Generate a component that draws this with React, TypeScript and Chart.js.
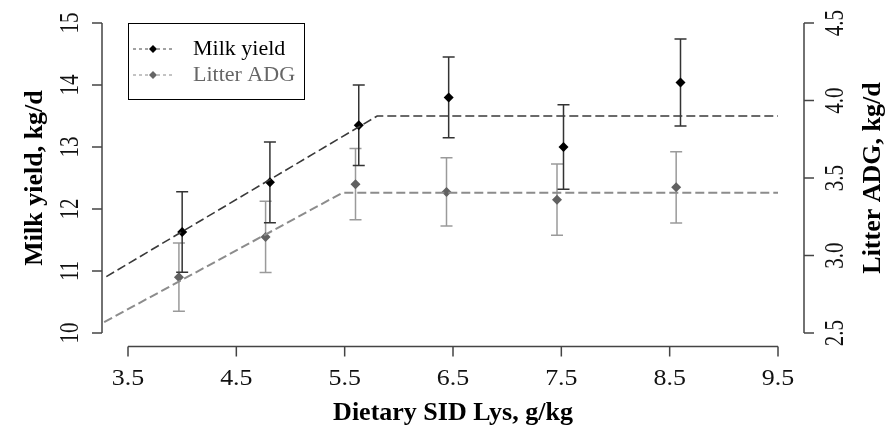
import React, { useEffect, useRef } from "react";
import { Chart, registerables } from "chart.js";

Chart.register(...registerables);

// ---- data ----
const seriesNames = ["Milk yield", "Litter ADG"];
const xTitle = "Dietary SID Lys, g/kg";
const yTitle = "Milk yield, kg/d";
const y2Title = "Litter ADG, kg/d";

const xTicks = [3.5, 4.5, 5.5, 6.5, 7.5, 8.5, 9.5];
const xTickLabels = ["3.5", "4.5", "5.5", "6.5", "7.5", "8.5", "9.5"];
const yTicks = [10, 11, 12, 13, 14, 15];
const yTickLabels = ["10", "11", "12", "13", "14", "15"];
const y2Ticks = [2.5, 3.0, 3.5, 4.0, 4.5];
const y2TickLabels = ["2.5", "3.0", "3.5", "4.0", "4.5"];

const milkX = [4.0, 4.81, 5.63, 6.46, 7.52, 8.6];
const milkY = [11.63, 12.43, 13.35, 13.8, 13.0, 14.04];
const milkSE = [0.65, 0.65, 0.65, 0.65, 0.68, 0.7];

const adgX = [3.97, 4.77, 5.6, 6.44, 7.46, 8.56];
const adgY = [2.86, 3.12, 3.46, 3.41, 3.36, 3.44];
const adgSE = [0.22, 0.23, 0.23, 0.22, 0.23, 0.23];

const milkFitX = [3.3, 5.8, 9.5];
const milkFitY = [10.91, 13.5, 13.5];
const adgFitX = [3.28, 5.48, 9.5];
const adgFitY = [2.57, 3.405, 3.405];

const FONT = '"Liberation Serif", "Times New Roman", serif';
const AXIS_COLOR = "#444";

const drawDiamond = (ctx: CanvasRenderingContext2D, x: number, y: number, r: number, color: string) => {
  ctx.beginPath();
  ctx.moveTo(x, y - r);
  ctx.lineTo(x + r, y);
  ctx.lineTo(x, y + r);
  ctx.lineTo(x - r, y);
  ctx.closePath();
  ctx.fillStyle = color;
  ctx.fill();
};

const errorBarsPlugin = {
  id: "errorBars",
  beforeDatasetsDraw(chart: any) {
    const ctx = chart.ctx as CanvasRenderingContext2D;
    const xs = chart.scales.x;
    const draw = (xv: number[], yv: number[], se: number[], scale: any, color: string) => {
      ctx.save();
      ctx.strokeStyle = color;
      ctx.lineWidth = 1.5;
      for (let i = 0; i < xv.length; i++) {
        const px = xs.getPixelForValue(xv[i]);
        const top = scale.getPixelForValue(yv[i] + se[i]);
        const bot = scale.getPixelForValue(yv[i] - se[i]);
        ctx.beginPath();
        ctx.moveTo(px, top);
        ctx.lineTo(px, bot);
        ctx.moveTo(px - 6, top);
        ctx.lineTo(px + 6, top);
        ctx.moveTo(px - 6, bot);
        ctx.lineTo(px + 6, bot);
        ctx.stroke();
      }
      ctx.restore();
    };
    draw(adgX, adgY, adgSE, chart.scales.y2, "#9a9a9a");
    draw(milkX, milkY, milkSE, chart.scales.y, "#333");
  },
};

const axesPlugin = {
  id: "rAxes",
  afterDraw(chart: any) {
    const ctx = chart.ctx as CanvasRenderingContext2D;
    const { x, y, y2 } = chart.scales;
    const area = chart.chartArea;
    const ax = area.bottom + 1;
    const ly = area.left;
    const ry = area.right;
    ctx.save();
    ctx.strokeStyle = AXIS_COLOR;
    ctx.lineWidth = 1.5;
    ctx.fillStyle = "#111";

    // x axis
    ctx.beginPath();
    ctx.moveTo(x.getPixelForValue(xTicks[0]), ax);
    ctx.lineTo(x.getPixelForValue(xTicks[xTicks.length - 1]), ax);
    xTicks.forEach((t) => {
      const px = x.getPixelForValue(t);
      ctx.moveTo(px, ax);
      ctx.lineTo(px, ax + 10);
    });
    ctx.stroke();
    ctx.font = `24px ${FONT}`;
    ctx.textAlign = "center";
    ctx.textBaseline = "alphabetic";
    xTicks.forEach((t, i) => {
      ctx.save();
      ctx.translate(x.getPixelForValue(t), 385);
      ctx.scale(1.08, 0.95);
      ctx.fillText(xTickLabels[i], 0, 0);
      ctx.restore();
    });

    // left y axis
    ctx.beginPath();
    ctx.moveTo(ly, y.getPixelForValue(yTicks[0]));
    ctx.lineTo(ly, y.getPixelForValue(yTicks[yTicks.length - 1]));
    yTicks.forEach((t) => {
      const py = y.getPixelForValue(t);
      ctx.moveTo(ly, py);
      ctx.lineTo(ly - 10, py);
    });
    ctx.stroke();
    ctx.font = `21px ${FONT}`;
    yTicks.forEach((t, i) => {
      const py = y.getPixelForValue(t);
      ctx.save();
      ctx.translate(78, py);
      ctx.rotate(-Math.PI / 2);
      ctx.scale(1, 1.25);
      ctx.textAlign = "center";
      ctx.fillText(yTickLabels[i], 0, 0);
      ctx.restore();
    });

    // right y axis
    ctx.beginPath();
    ctx.moveTo(ry, y2.getPixelForValue(y2Ticks[0]));
    ctx.lineTo(ry, y2.getPixelForValue(y2Ticks[y2Ticks.length - 1]));
    y2Ticks.forEach((t) => {
      const py = y2.getPixelForValue(t);
      ctx.moveTo(ry, py);
      ctx.lineTo(ry + 10, py);
    });
    ctx.stroke();
    y2Ticks.forEach((t, i) => {
      const py = y2.getPixelForValue(t);
      ctx.save();
      ctx.translate(843, py);
      ctx.rotate(-Math.PI / 2);
      ctx.scale(1, 1.25);
      ctx.textAlign = "center";
      ctx.fillText(y2TickLabels[i], 0, 0);
      ctx.restore();
    });

    // titles
    ctx.fillStyle = "#000";
    ctx.font = `bold 26px ${FONT}`;
    ctx.textAlign = "center";
    ctx.fillText(xTitle, (area.left + area.right) / 2, 420);
    const midY = (y.getPixelForValue(10) + y.getPixelForValue(15)) / 2;
    ctx.save();
    ctx.translate(42, midY);
    ctx.rotate(-Math.PI / 2);
    ctx.fillText(yTitle, 0, 0);
    ctx.restore();
    ctx.save();
    ctx.translate(880, midY);
    ctx.rotate(-Math.PI / 2);
    ctx.fillText(y2Title, 0, 0);
    ctx.restore();

    // legend
    ctx.strokeStyle = "#000";
    ctx.lineWidth = 1;
    ctx.strokeRect(128.5, 23.5, 176, 76);
    const rows = [
      { y: 49, line: "#444", mark: "#000", text: "#000" },
      { y: 75, line: "#888", mark: "#666", text: "#666" },
    ];
    rows.forEach((r, i) => {
      ctx.save();
      ctx.strokeStyle = r.line;
      ctx.lineWidth = 1;
      ctx.setLineDash([3, 3]);
      ctx.beginPath();
      ctx.moveTo(133, r.y);
      ctx.lineTo(174, r.y);
      ctx.stroke();
      ctx.restore();
      drawDiamond(ctx, 153, r.y, 4, r.mark);
      ctx.fillStyle = r.text;
      ctx.font = `22px ${FONT}`;
      ctx.textAlign = "left";
      ctx.textBaseline = "middle";
      ctx.fillText(seriesNames[i], 193, r.y);
    });
    ctx.restore();
  },
};

export default function App() {
  const ref = useRef<HTMLCanvasElement | null>(null);
  useEffect(() => {
    if (!ref.current) return;
    const chart = new Chart(ref.current, {
      type: "scatter",
      data: {
        datasets: [
          {
            type: "line",
            label: seriesNames[0] + " fit",
            data: milkFitX.map((v, i) => ({ x: v, y: milkFitY[i] })),
            yAxisID: "y",
            borderColor: "#3a3a3a",
            borderWidth: 1.6,
            borderDash: [9, 4],
            pointRadius: 0,
            fill: false,
          },
          {
            type: "line",
            label: seriesNames[1] + " fit",
            data: adgFitX.map((v, i) => ({ x: v, y: adgFitY[i] })),
            yAxisID: "y2",
            borderColor: "#8c8c8c",
            borderWidth: 2,
            borderDash: [9, 4],
            pointRadius: 0,
            fill: false,
          },
          {
            label: seriesNames[1],
            data: adgX.map((v, i) => ({ x: v, y: adgY[i] })),
            yAxisID: "y2",
            pointStyle: "rectRot",
            pointRadius: 5,
            backgroundColor: "#616161",
            borderColor: "#616161",
            borderWidth: 0,
          },
          {
            label: seriesNames[0],
            data: milkX.map((v, i) => ({ x: v, y: milkY[i] })),
            yAxisID: "y",
            pointStyle: "rectRot",
            pointRadius: 5,
            backgroundColor: "#000",
            borderColor: "#000",
            borderWidth: 0,
          },
        ],
      },
      options: {
        animation: false,
        responsive: false,
        devicePixelRatio: 1,
        layout: { padding: { left: 102, right: 83, top: 10.6, bottom: 82.6 } },
        plugins: { legend: { display: false }, tooltip: { enabled: false } },
        scales: {
          x: { type: "linear", min: 3.26, max: 9.74, display: false },
          y: { type: "linear", min: 9.8, max: 15.2, display: false },
          y2: { type: "linear", position: "right", min: 2.42, max: 4.58, display: false },
        },
      },
      plugins: [errorBarsPlugin, axesPlugin],
    } as any);
    return () => chart.destroy();
  }, []);
  return (
    <div style={{ position: "fixed", left: 0, top: 0, width: 887, height: 428, background: "#fff" }}>
      <canvas ref={ref} width={887} height={428} />
    </div>
  );
}
